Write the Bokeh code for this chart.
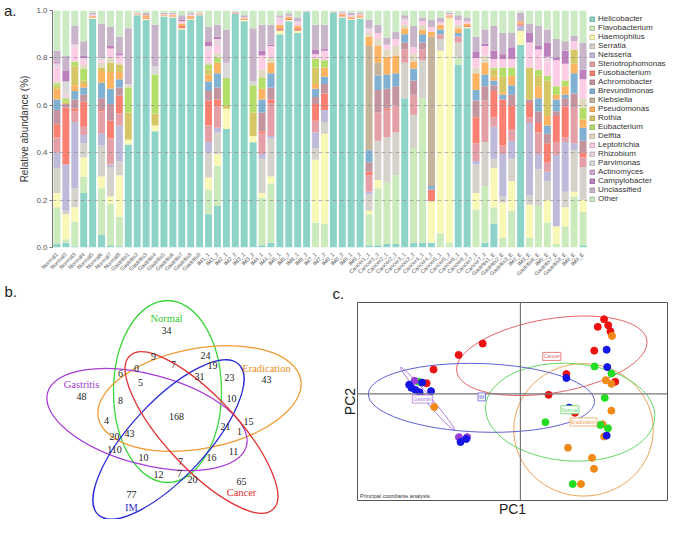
import math
from bokeh.plotting import figure
from bokeh.models import (FactorRange, Legend, LegendItem, Label, Range1d, Span, Title,
                          ColumnDataSource, FixedTicker, PrintfTickFormatter, LinearAxis)
from bokeh.layouts import column, row
from bokeh.embed import file_html
from bokeh.resources import INLINE
from bokeh.core.properties import value

# ---------------- panel a data ----------------
taxa = ["Helicobacter", "Flavobacterium", "Haemophilus", "Serratia", "Neisseria",
        "Stenotrophomonas", "Fusobacterium", "Achromobacter", "Brevundimonas",
        "Klebsiella", "Pseudomonas", "Rothia", "Eubacterium", "Delftia",
        "Leptotrichia", "Rhizobium", "Parvimonas", "Actinomyces", "Campylobacter",
        "Unclassified", "Other"]
taxa_colors = ["#8DD3C7", "#CCEBBC", "#F9F8B7", "#D5D2CC", "#BEBADA", "#E4A0A6",
               "#FB8072", "#C4949F", "#80B1D3", "#C4B49B", "#FDB462", "#D6C766",
               "#B3DE69", "#E0DAC0", "#FCCDE5", "#E9D3DE", "#D9D9D9", "#D4A8D3",
               "#BC80BD", "#C9B5C9", "#CCEBC5"]

normal_names = ["Normal1", "Normal2", "Normal3", "Normal4", "Normal5", "Normal6", "Normal7", "Normal8"]
gastritis_names = ["Gastritis1", "Gastritis2", "Gastritis3", "Gastritis4", "Gastritis5",
                   "Gastritis6", "Gastritis7", "Gastritis8", "Gastritis9"]
im_names = ["IM1_1", "IM1_2", "IM2_1", "IM2_2", "IM3_1", "IM3_2", "IM4_1", "IM4_2", "IM5_1",
            "IM5_2", "IM6_1", "IM6_2", "IM7_1", "IM7_2", "IM8_1", "IM8_2", "IM9_1", "IM9_2"]
cancer_names = ["Cancer1_1", "Cancer1_2", "Cancer2_1", "Cancer2_2", "Cancer3_1", "Cancer3_2",
                "Cancer4_1", "Cancer4_2", "Cancer5_1", "Cancer5_2", "Cancer6_1", "Cancer6_2",
                "Cancer7_1", "Cancer7_2"]
erad_names = ["Gastritis1_E", "Gastritis2_E", "Gastritis3_E", "IM2_E", "IM3_E", "Gastritis6_E",
              "IM5_E", "Gastritis7_E", "Gastritis8_E", "IM8_E", "IM9_E"]

# each row: relative abundance of the 21 taxa (order of `taxa`), bottom to top
normal_rows = [
    [.017, .153, .06, .105, .065, .065, .055, .06, .045, 0, .045, .01, .01, .01, .06, .015, 0, .005, .005, .045, .17],
    [.02, .015, .105, .015, .195, 0, .24, .015, 0, 0, 0, .01, .015, 0, 0, .02, .05, 0, .045, .065, .19],
    [.005, .105, .06, .08, .28, .045, .01, .04, .035, 0, .025, .08, .02, 0, .06, .015, 0, 0, .005, .07, .065],
    [.23, .07, .08, .06, .035, .035, .105, .03, .03, 0, .015, .015, .05, .015, .02, .01, 0, 0, .01, .06, .13],
    [.965, 0, .005, 0, 0, 0, .005, 0, 0, 0, .003, 0, 0, 0, .005, 0, 0, 0, 0, .007, .01],
    [.055, .195, .05, .13, .05, .095, .005, .05, .065, 0, .05, .015, 0, .02, .01, .005, .005, 0, 0, .145, .055],
    [.01, .175, .03, .125, .01, .11, .075, .07, .065, 0, .07, .04, 0, .02, .04, 0, 0, 0, .01, .08, .07],
    [.005, .125, .175, .06, .15, .05, .075, .035, .035, 0, .03, .03, 0, .01, .03, 0, 0, 0, .01, .07, .11],
]
gastritis_rows = [
    [.435, 0, .02, 0, 0, 0, 0, 0, 0, 0, 0, .115, .105, .01, 0, 0, .005, 0, 0, .235, .075],
    [.98, 0, .003, 0, 0, 0, .002, 0, 0, 0, .002, 0, 0, 0, .002, 0, 0, 0, 0, .003, .008],
    [.96, 0, .005, 0, 0, 0, .005, 0, 0, 0, .01, 0, 0, 0, 0, 0, 0, 0, 0, .01, .01],
    [.49, 0, .025, 0, 0, 0, 0, 0, 0, 0, 0, .05, .165, 0, 0, 0, .035, 0, 0, .175, .06],
    [.975, 0, .003, 0, 0, 0, .002, 0, 0, 0, .003, 0, 0, 0, .002, 0, 0, 0, 0, .005, .01],
    [.97, 0, .005, 0, 0, 0, .003, 0, 0, 0, .004, 0, 0, 0, .003, 0, 0, 0, 0, .005, .01],
    [.92, 0, .005, 0, 0, 0, .01, 0, 0, 0, .01, 0, 0, 0, .01, 0, 0, 0, .005, .02, .02],
    [.96, 0, .005, 0, 0, 0, .005, 0, 0, 0, .008, 0, 0, 0, .005, 0, 0, 0, 0, .007, .01],
    [.98, 0, .003, 0, 0, 0, .002, 0, 0, 0, .002, 0, 0, 0, .002, 0, 0, 0, 0, .003, .008],
]
im_rows = [
    [.14, .105, .05, .105, .045, .07, .105, .04, .04, 0, .03, .02, .02, .01, .05, .02, 0, 0, .02, .06, .07],
    [.175, .17, .05, .09, .02, .09, .03, .05, .06, 0, .045, 0, .02, .02, .03, .03, 0, 0, .01, .05, .06],
    [.50, 0, .085, 0, 0, 0, 0, 0, 0, 0, 0, .015, .115, 0, 0, 0, .065, 0, 0, .14, .08],
    [.985, 0, .002, 0, 0, 0, .002, 0, 0, 0, .002, 0, 0, 0, 0, 0, 0, 0, 0, .003, .006],
    [.955, 0, .005, 0, 0, 0, .003, 0, 0, 0, .004, 0, 0, 0, .003, 0, 0, 0, 0, .01, .02],
    [.444, 0, .026, 0, 0, 0, 0, 0, 0, 0, 0, .10, .115, 0, 0, 0, .015, 0, 0, .225, .075],
    [.01, .20, .02, .145, .02, .085, .01, .08, .055, 0, .045, 0, .045, .035, .06, 0, 0, 0, .02, .11, .06],
    [.02, .25, .03, .16, .01, .14, .015, .05, .06, 0, .045, 0, 0, .02, .05, 0, 0, 0, .005, .085, .06],
    [.90, 0, .015, 0, 0, 0, .01, 0, 0, 0, .015, 0, 0, 0, .02, .01, 0, 0, 0, .01, .02],
    [.955, 0, .005, 0, 0, 0, .005, 0, 0, 0, .008, 0, 0, 0, .005, 0, 0, 0, 0, .007, .015],
    [.905, 0, .01, 0, 0, 0, .01, 0, 0, 0, .01, 0, 0, 0, .01, .01, 0, 0, 0, .015, .03],
    [.995, 0, 0, 0, 0, 0, 0, 0, 0, 0, 0, 0, 0, 0, 0, 0, 0, 0, 0, .002, .003],
    [0, .105, .265, .05, .065, .05, .07, .03, .035, 0, .02, .07, .035, 0, .02, 0, 0, 0, .02, .105, .06],
    [0, .10, .38, .05, .05, 0, .07, .04, .03, 0, .04, 0, .03, 0, .04, 0, 0, 0, .01, .10, .06],
    [.99, 0, 0, 0, 0, 0, .002, 0, 0, 0, 0, 0, 0, 0, 0, 0, 0, 0, 0, .003, .005],
    [.97, 0, .005, 0, 0, 0, .005, 0, 0, 0, .005, 0, 0, 0, .005, 0, 0, 0, 0, .005, .005],
    [.96, 0, .005, 0, 0, 0, .005, 0, 0, 0, .005, 0, 0, 0, .005, 0, 0, 0, 0, .01, .01],
    [.965, 0, .005, 0, 0, 0, .005, 0, 0, 0, .005, 0, 0, 0, .005, 0, 0, 0, 0, .005, .01],
]
cancer_rows = [
    [.01, .13, .015, .07, .01, .07, .015, .04, .05, .44, .04, 0, 0, .015, .01, .01, 0, 0, 0, .035, .04],
    [.01, .24, .035, .165, 0, .12, 0, .095, .06, .055, .07, 0, 0, .03, .025, 0, 0, 0, 0, .035, .06],
    [.015, .26, 0, .19, 0, .115, .005, .085, .06, 0, .075, 0, 0, .03, .02, 0, 0, 0, 0, .03, .115],
    [.015, .29, 0, .18, 0, .115, 0, .08, .055, 0, .075, 0, 0, .04, .03, 0, 0, 0, 0, .03, .09],
    [.63, 0, 0, .15, 0, .055, 0, .03, .035, 0, .025, 0, 0, .015, .015, .01, 0, 0, 0, .015, .02],
    [.02, .40, 0, .14, 0, .085, 0, .06, .05, 0, .03, 0, 0, .03, .03, 0, 0, 0, 0, .09, .065],
    [.02, .61, 0, .16, 0, .045, 0, .03, .035, 0, .02, 0, 0, .02, .015, 0, 0, 0, 0, .015, .03],
    [.02, 0, .175, 0, 0, 0, .05, 0, .015, .63, .02, 0, 0, 0, .02, 0, 0, 0, 0, .03, .04],
    [0, .06, .77, .05, 0, .02, 0, 0, .02, 0, .02, 0, 0, 0, .01, 0, 0, 0, 0, .02, .03],
    [0, .02, .95, 0, 0, 0, .005, 0, 0, 0, .005, 0, 0, 0, .005, 0, 0, 0, 0, .005, .01],
    [.77, .03, 0, .065, 0, .025, 0, 0, .015, 0, .02, 0, 0, .015, .02, 0, 0, 0, 0, .02, .02],
    [.925, 0, .005, 0, 0, 0, .005, 0, 0, 0, .01, 0, 0, 0, .01, 0, 0, 0, 0, .015, .03],
    [0, .16, .07, .12, .015, .075, .11, .07, .045, 0, .07, 0, 0, .025, .04, 0, 0, 0, .025, .065, .11],
    [.02, .24, 0, .185, 0, .175, 0, .06, .05, 0, .05, 0, 0, .03, .04, 0, 0, 0, .01, .06, .08],
]
erad_rows = [
    [.10, .07, .165, .04, .135, .04, .11, .025, .02, 0, .015, .03, .01, 0, .035, 0, 0, 0, .035, .105, .065],
    [0, .04, .15, .025, .18, .035, .195, 0, .02, 0, .01, .065, .04, 0, .035, 0, 0, 0, .02, .09, .095],
    [0, .155, .125, .095, .075, .05, .10, .045, .04, 0, .04, 0, .035, 0, .035, 0, 0, 0, .05, .06, .095],
    [.855, 0, .058, 0, .022, .005, .005, 0, 0, 0, .01, 0, 0, 0, 0, 0, 0, 0, 0, .035, .01],
    [0, .04, .14, .04, .305, .025, .06, .015, 0, 0, 0, .135, 0, 0, .105, 0, 0, 0, .04, .04, .055],
    [0, .175, 0, .155, .065, .09, .04, .05, .055, 0, .05, .045, .025, 0, .085, 0, 0, 0, .015, .085, .065],
    [0, .105, .095, .08, .04, .04, .08, .04, .035, 0, .04, .15, .02, 0, .06, .02, 0, 0, .06, .055, .08],
    [0, .015, .075, 0, .30, .055, .11, .02, .05, 0, .02, 0, .035, 0, .11, 0, 0, 0, .01, .08, .12],
    [0, .09, .08, .065, .21, .02, .13, .035, .015, 0, .035, 0, .025, 0, .07, 0, 0, 0, .055, .04, .13],
    [0, .215, .02, .175, .03, .15, 0, .06, .085, 0, .04, .06, 0, 0, .035, 0, 0, 0, 0, .025, .105],
    [.01, .14, .05, .14, 0, .04, .02, .05, .055, 0, .035, 0, .05, .04, .08, 0, 0, 0, .04, .115, .135],
]

# ---------------- panel b data (Venn) ----------------
venn_sets = ["Normal", "Eradication", "Gastritis", "IM", "Cancer"]
venn_colors = ["#3CD63C", "#F29A33", "#A83ED8", "#2A2AD8", "#E23232"]
venn_text_colors = ["#2FC82F", "#EE8E22", "#A23CD0", "#2E2ED0", "#E02E2E"]
venn_cx = [167, 199, 146.5, 168, 201]
venn_cy = [392, 399, 420, 440, 433]
venn_w = [108, 206, 206, 206, 210]
venn_h = [182, 100, 90, 76, 72]
venn_angle = [0, 10.7, -15, 47, -47]
venn_name_x = [166, 266, 81, 131, 241]
venn_name_y = [319, 369, 385, 508, 493]
venn_counts = ["34", "9", "24", "6", "0", "7", "19", "43", "48", "5", "31", "23", "8", "10",
               "168", "4", "21", "15", "1", "20", "43", "110", "11", "10", "7", "16", "12",
               "7", "20", "65", "77"]
venn_count_x = [166, 153, 205, 120, 136, 173, 212, 266, 81, 140, 199, 229, 120, 231,
                176, 106, 225, 248, 239, 114, 129, 114, 233, 143, 180, 211, 158,
                179, 192, 241, 131]
venn_count_y = [331, 357, 356, 374, 369, 365, 366, 380, 397, 383, 377, 378, 401, 399,
                417, 421, 427, 422, 432, 437, 434, 450, 452, 458, 462, 458, 475,
                474, 480, 482, 495]

# ---------------- panel c data (PCoA) ----------------
pc_groups = ["Cancer", "Eradication", "Normal", "Gastritis", "IM"]
pc_colors = ["#EE1111", "#F28A1A", "#22DD22", "#9A3DD6", "#1515E6"]
pc_ell_colors = ["#E06464", "#EEA458", "#64D864", "#B47AE2", "#6060D6"]
cancer_pc1 = [0.264, 0.277, 0.244, 0.284, -0.119, -0.195, 0.233, -0.274, 0.145, -0.296, 0.299, 0.089, 0.172]
cancer_pc2 = [0.245, 0.225, 0.220, 0.205, 0.165, 0.128, 0.142, 0.080, 0.065, 0.035, 0.040, -0.003, -0.062]
erad_pc1 = [0.289, 0.269, 0.287, -0.272, 0.287, 0.259, 0.264, 0.150, 0.226, 0.232, 0.191]
erad_pc2 = [0.190, 0.045, 0.033, -0.043, -0.055, -0.100, -0.140, -0.177, -0.210, -0.246, -0.296]
normal_pc1 = [0.234, 0.287, -0.321, 0.266, 0.079, 0.252, 0.276, 0.165]
normal_pc2 = [0.090, 0.067, 0.040, -0.013, -0.093, -0.102, -0.113, -0.296]
gastritis_pc1 = [-0.334, -0.308, -0.194, -0.168]
gastritis_pc2 = [0.043, -0.013, -0.142, -0.142]
im_pc1 = [0.272, 0.274, 0.145, 0.154, 0.272, -0.351, -0.344, -0.331, -0.318, -0.310, -0.282, -0.189, -0.171]
im_pc2 = [0.145, 0.088, 0.052, -0.045, -0.137, 0.030, 0.020, 0.013, 0.005, 0.037, 0.009, -0.158, -0.148]
ell_cx = [0.099, 0.199, 0.157, -0.293, -0.123]
ell_cy = [0.125, -0.118, -0.060, -0.016, -0.013]
ell_w = [0.608, 0.440, 0.535, 0.261, 0.714]
ell_h = [0.243, 0.435, 0.320, 0.020, 0.225]
ell_angle = [9.5, 0, -4, -49.3, -2]
ell_label_x = [0.099, 0.199, 0.156, -0.309, -0.122]
ell_label_y = [0.123, -0.092, -0.052, -0.017, -0.010]

SANS = "Liberation Sans"
SERIF = "Liberation Serif"


def darker(hexc, f=0.78):
    r, g, b = (int(hexc[i:i + 2], 16) for i in (1, 3, 5))
    return "#%02x%02x%02x" % (int(r * f), int(g * f), int(b * f))


# ---------------- panel a ----------------
samples = normal_names + gastritis_names + im_names + cancer_names + erad_names
rows = normal_rows + gastritis_rows + im_rows + cancer_rows + erad_rows
data = {"sample": samples}
for j, t in enumerate(taxa):
    data[t] = [r[j] for r in rows]
src = ColumnDataSource(data)

pa = figure(width=589, height=281, x_range=FactorRange(*samples), y_range=Range1d(0, 1.0),
            output_backend="svg", toolbar_location=None, frame_align=False,
            min_border_left=44, min_border_right=2, min_border_top=10, min_border_bottom=29)
pa.vbar_stack(taxa, x="sample", width=0.78, color=taxa_colors, source=src, line_color=None)
pa.outline_line_color = None
pa.xgrid.visible = False
pa.ygrid.ticker = FixedTicker(ticks=[0.2, 0.4, 0.6, 0.8])
pa.ygrid.grid_line_dash = "4 3"
pa.ygrid.grid_line_color = "#8a8a8a"
pa.ygrid.grid_line_alpha = 0.6
pa.ygrid.level = "overlay"
pa.yaxis.ticker = FixedTicker(ticks=[0, 0.2, 0.4, 0.6, 0.8, 1.0])
pa.yaxis.formatter = PrintfTickFormatter(format="%.1f")
pa.yaxis.axis_label = "Relative abundance (%)"
pa.yaxis.axis_label_text_font = SANS
pa.yaxis.axis_label_text_font_style = "normal"
pa.yaxis.axis_label_text_font_size = "10px"
pa.yaxis.axis_label_text_color = "#333333"
pa.yaxis.axis_label_standoff = 3
pa.yaxis.major_label_text_font = SANS
pa.yaxis.major_label_text_font_size = "8px"
pa.yaxis.major_label_text_color = "#555555"
pa.yaxis.major_label_standoff = 2
pa.yaxis.axis_line_color = "#777777"
pa.yaxis.major_tick_line_color = "#777777"
pa.yaxis.major_tick_out = 3
pa.yaxis.major_tick_in = 0
pa.yaxis.minor_tick_line_color = None
pa.xaxis.major_label_orientation = math.pi / 4
pa.xaxis.major_label_text_font = SANS
pa.xaxis.major_label_text_font_size = "5.5px"
pa.xaxis.major_label_text_color = "#555555"
pa.xaxis.major_label_standoff = 0
pa.xaxis.axis_line_color = None
pa.xaxis.major_tick_line_color = None

# panel letter "a." as an outer left axis label at the top of the plot
letter_axis = LinearAxis(ticker=FixedTicker(ticks=[1.0]), major_label_overrides={1.0: "a."},
                         axis_line_color=None, major_tick_line_color=None,
                         major_tick_out=0, major_tick_in=0,
                         minor_tick_line_color=None, major_label_standoff=0,
                         major_label_text_font=SANS, major_label_text_font_size="15px",
                         major_label_text_color="#222222")
pa.add_layout(letter_axis, "left")

# legend lives in its own narrow figure to the right of the bars;
# its swatch renderers sit outside the visible range so only the legend shows them
pleg = figure(width=80, height=281, x_range=Range1d(0, 1), y_range=Range1d(0, 1),
              output_backend="svg", toolbar_location=None, frame_align=False,
              min_border_left=0, min_border_right=0, min_border_bottom=0, min_border_top=14)
pleg.axis.visible = False
pleg.grid.visible = False
pleg.outline_line_color = None
swatches = [pleg.vbar(x=[5], top=[6], bottom=[5], width=0.8, fill_color=c,
                      line_color=darker(c), line_width=1)
            for c in taxa_colors]
legend = Legend(items=[LegendItem(label=t, renderers=[r]) for t, r in zip(taxa, swatches)],
                location="top_left", ncols=1, label_text_font=SANS, label_text_font_size="8px",
                label_text_color="#333333", glyph_width=6, glyph_height=6, label_height=8,
                label_standoff=3, spacing=0, padding=1, margin=0, border_line_color=None,
                background_fill_alpha=0, label_text_line_height=1.0)
pleg.add_layout(legend)

# ---------------- panel b ----------------
pb = figure(width=330, height=238, x_range=Range1d(0, 330), y_range=Range1d(-520, -282),
            output_backend="svg", toolbar_location=None, min_border=0, frame_align=False)
pb.axis.visible = False
pb.grid.visible = False
pb.outline_line_color = None
pb.ellipse(x=venn_cx, y=[-v for v in venn_cy], width=venn_w, height=venn_h,
           angle=venn_angle, angle_units="deg", fill_color=None,
           line_color=venn_colors, line_width=1.3)
pb.text(x=venn_count_x, y=[-v for v in venn_count_y], text=venn_counts,
        text_font=value(SERIF), text_font_size="10px", text_color="#222222",
        text_align="center", text_baseline="middle")
pb.text(x=venn_name_x, y=[-v for v in venn_name_y], text=venn_sets,
        text_font=value(SERIF), text_font_size="10.5px", text_color=venn_text_colors,
        text_align="center", text_baseline="middle")
pb.add_layout(Label(x=4, y=-283, text="b.", text_font=SANS, text_font_size="15px",
                    text_baseline="top", text_color="#222222"))

# ---------------- panel c ----------------
pc = figure(width=339, height=238, x_range=Range1d(-0.514, 0.464), y_range=Range1d(-0.35, 0.30),
            output_backend="svg", toolbar_location=None, frame_align=False,
            min_border_left=27, min_border_right=2, min_border_top=21, min_border_bottom=16)
pc.add_layout(Title(text="c.", align="left", offset=-25, standoff=2, text_font=SANS,
                    text_font_size="15px", text_font_style="normal", text_color="#222222"),
              "above")
pc.grid.visible = False
pc.outline_line_color = "#555555"
for ax, lab in ((pc.xaxis, "PC1"), (pc.yaxis, "PC2")):
    ax.axis_label = lab
    ax.axis_label_text_font = SANS
    ax.axis_label_text_font_style = "normal"
    ax.axis_label_text_font_size = "14px"
    ax.axis_label_text_color = "#222222"
    ax.axis_label_standoff = 0
    ax.ticker = FixedTicker(ticks=[])
    ax.major_label_standoff = 0
    ax.major_tick_line_color = None
    ax.minor_tick_line_color = None
    ax.axis_line_color = None
pc.add_layout(Span(location=0, dimension="width", line_color="#777777", line_width=1.2))
pc.add_layout(Span(location=0, dimension="height", line_color="#777777", line_width=1.2))
pc.ellipse(x=ell_cx, y=ell_cy, width=ell_w, height=ell_h, angle=ell_angle, angle_units="deg",
           fill_color=None, line_color=pc_ell_colors, line_width=1)
pc.scatter(cancer_pc1, cancer_pc2, size=7, color=pc_colors[0])
pc.scatter(erad_pc1, erad_pc2, size=7, color=pc_colors[1])
pc.scatter(normal_pc1, normal_pc2, size=7, color=pc_colors[2])
pc.scatter(gastritis_pc1, gastritis_pc2, size=7, color=pc_colors[3])
pc.scatter(im_pc1, im_pc2, size=7, color=pc_colors[4])
for g, col, lx, ly in zip(pc_groups, pc_ell_colors, ell_label_x, ell_label_y):
    pc.add_layout(Label(x=lx, y=ly, text=g, text_font=SANS, text_font_size="5px",
                        text_color=col, text_align="center", text_baseline="middle",
                        border_line_color=col, border_line_width=0.8,
                        background_fill_color="white", padding=1))
pc.add_layout(Label(x=-0.506, y=-0.346, text="Principal coordiante analysis", text_font=SANS,
                    text_font_size="5.5px", text_color="#333333", text_baseline="bottom"))

layout = column(row(pa, pleg), row(pb, pc))
open("out.html", "w").write(file_html(layout, INLINE))
